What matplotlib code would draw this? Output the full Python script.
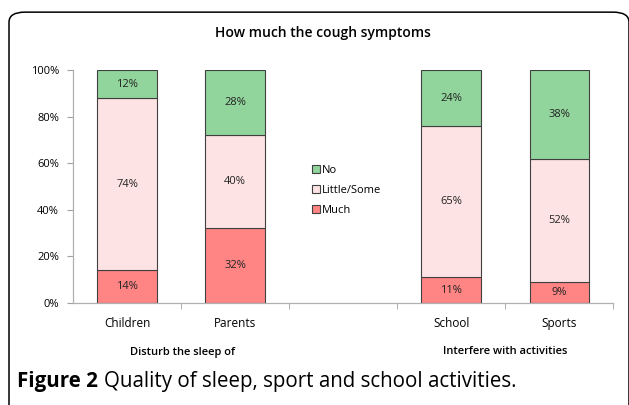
import matplotlib.pyplot as plt
from matplotlib.patches import FancyBboxPatch
import numpy as np

plt.rcParams['font.family'] = ['Open Sans', 'DejaVu Sans']

# data (percent)
categories = ['Children', 'Parents', '', 'School', 'Sports']
much = [14, 32, 0, 11, 9]
little = [74, 40, 0, 65, 52]
no = [12, 28, 0, 24, 38]
series_names = ['Much', 'Little/Some', 'No']
colors = ['#ff8585', '#fde3e3', '#92d59c']
groups = ['Disturb the sleep of', 'Interfere with activities']

fig = plt.figure(figsize=(6.29, 4.05), dpi=100)

# rounded frame around the figure panel
frame = FancyBboxPatch((9 / 629, -0.05), 620 / 629, 1.02, transform=fig.transFigure,
                       boxstyle='round,pad=0,rounding_size=0.025', fill=False,
                       edgecolor='black', lw=1.1)
fig.patches.append(frame)

ax = fig.add_axes([0.116, 0.252, 0.859, 0.575])

data = np.array([much, little, no], dtype=float)
totals = data.sum(axis=0)
used = totals > 0
pct = np.zeros_like(data)
pct[:, used] = data[:, used] / totals[used] * 100  # 100% stacked, like the original

x = np.arange(len(categories))
bottom = np.zeros(len(categories))
bars = []
for i, name in enumerate(series_names):
    b = ax.bar(x[used], pct[i, used], 0.55, bottom=bottom[used], color=colors[i],
               edgecolor='#404040', lw=0.8, label=name)
    bars.append(b)
    for j in np.where(used)[0]:
        ax.text(x[j], bottom[j] + pct[i, j] / 2, f'{int(data[i, j])}%',
                ha='center', va='center', fontsize=8, color='#222222')
    bottom += pct[i]

ax.set_xlim(-0.5, len(categories) - 0.5)
ax.set_ylim(0, 100)
ax.set_yticks(range(0, 101, 20))
ax.set_yticklabels([f'{v}%' for v in range(0, 101, 20)], fontsize=8)
ax.set_xticks(x)
ax.set_xticklabels(categories, fontsize=8.5)
ax.set_xticks(np.arange(0.5, len(categories), 1), minor=True)
ax.tick_params(axis='x', which='major', length=0, pad=10)
ax.tick_params(axis='x', which='minor', length=4, color='#a0a0a0', direction='out')
ax.tick_params(axis='y', length=4, color='#a0a0a0', pad=6)
for s in ['top', 'right']:
    ax.spines[s].set_visible(False)
for s in ['left', 'bottom']:
    ax.spines[s].set_color('#b0b0b0')
    ax.spines[s].set_linewidth(0.9)

handles = [bars[2], bars[1], bars[0]]
leg = fig.legend(handles, ['No', 'Little/Some', 'Much'], loc='upper left',
                 bbox_to_anchor=(302 / 629, 1 - 155 / 405), frameon=False,
                 fontsize=8, handlelength=0.7, handleheight=0.7,
                 handletextpad=0.15, labelspacing=0.8)

fig.text(323 / 629, 1 - 33 / 405, 'How much the cough symptoms', ha='center',
         va='center', fontsize=10, fontweight='semibold')
fig.text(183 / 629, 1 - 352 / 405, groups[0], ha='center', va='center',
         fontsize=8, fontweight='semibold')
fig.text(505 / 629, 1 - 352 / 405, groups[1], ha='center', va='center',
         fontsize=8, fontweight='semibold')

cap = fig.text(17 / 629, 1 - 381 / 405, 'Figure 2', ha='left', va='center',
               fontsize=14.8, fontweight='bold')
fig.canvas.draw()
bb = cap.get_window_extent()
fig.text((bb.x1 + 6) / 629, 1 - 381 / 405, 'Quality of sleep, sport and school activities.',
         ha='left', va='center', fontsize=14.8)

fig.savefig('out.png', dpi=100)
